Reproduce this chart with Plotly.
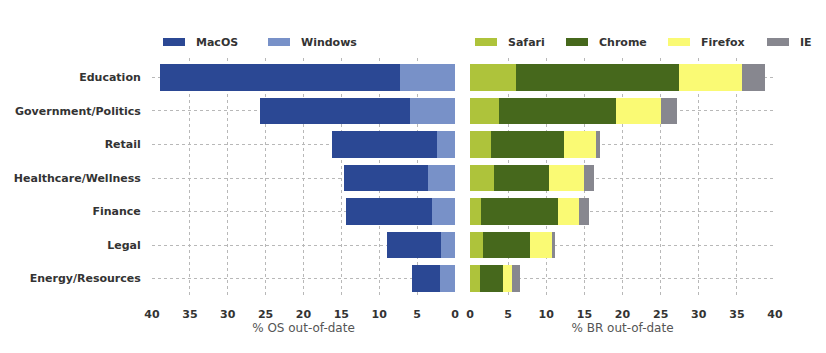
import plotly.graph_objects as go

categories = ["Education", "Government/Politics", "Retail", "Healthcare/Wellness",
              "Finance", "Legal", "Energy/Resources"]

# OS out-of-date (%)
os_macos = [31.6, 19.9, 13.9, 11.1, 11.4, 7.1, 3.7]
os_windows = [7.3, 5.9, 2.4, 3.6, 3.0, 1.9, 2.0]

# Browser out-of-date (%)
br_safari = [6.0, 3.8, 2.7, 3.2, 1.4, 1.7, 1.3]
br_chrome = [21.35, 15.3, 9.6, 7.1, 10.2, 6.2, 3.0]
br_firefox = [8.3, 6.0, 4.2, 4.7, 2.7, 2.9, 1.2]
br_ie = [3.1, 2.1, 0.6, 1.3, 1.3, 0.4, 1.0]

x_ticks = [0, 5, 10, 15, 20, 25, 30, 35, 40]

pos = list(range(len(categories)))

C_MAC = "#2b4894"
C_WIN = "#7891c8"
C_SAF = "#aec33b"
C_CHR = "#46681c"
C_FF = "#fafa74"
C_IE = "#87878f"

W, H = 826, 353

fig = go.Figure()

os_series = [(os_windows, "Windows", C_WIN), (os_macos, "MacOS", C_MAC)]
br_series = [(br_safari, "Safari", C_SAF), (br_chrome, "Chrome", C_CHR),
             (br_firefox, "Firefox", C_FF), (br_ie, "IE", C_IE)]

for vals, name, col in os_series:
    fig.add_trace(go.Bar(y=pos, x=vals, orientation="h", name=name,
                         marker=dict(color=col, line=dict(width=0)),
                         xaxis="x", yaxis="y", showlegend=False))
for vals, name, col in br_series:
    fig.add_trace(go.Bar(y=pos, x=vals, orientation="h", name=name,
                         marker=dict(color=col, line=dict(width=0)),
                         xaxis="x2", yaxis="y2", showlegend=False))

# hand-placed legend entries (swatch left pixel, label from the series name)
legend_entries = [("MacOS", C_MAC, 163), ("Windows", C_WIN, 268),
                  ("Safari", C_SAF, 475), ("Chrome", C_CHR, 566),
                  ("Firefox", C_FF, 668), ("IE", C_IE, 767)]
shapes = []
annotations = []
leg_y = 42  # pixel from top
for name, col, x0 in legend_entries:
    shapes.append(dict(type="rect", xref="paper", yref="paper",
                       x0=x0 / W, x1=(x0 + 22) / W,
                       y0=1 + (58 - leg_y - 4) / (H - 58 - 55),
                       y1=1 + (58 - leg_y + 4) / (H - 58 - 55),
                       fillcolor=col, line=dict(width=0), layer="above"))
    annotations.append(dict(text=name, xref="paper", yref="paper",
                            x=(x0 + 31) / W, xanchor="left",
                            y=1 + (58 - leg_y) / (H - 58 - 55), yanchor="middle",
                            showarrow=False,
                            font=dict(family="DejaVu Sans", size=11, color="#333333", weight="bold")))

font_tick = dict(family="DejaVu Sans", size=11, color="#333333", weight="bold")
grid = dict(showgrid=True, gridcolor="#b8b8b8", griddash="dot", gridwidth=1)
title_font = dict(family="DejaVu Sans", size=12, color="#555555")

yrange = [len(categories) - 1 + 0.58, -0.58]

fig.update_layout(
    width=W, height=H,
    margin=dict(l=0, r=0, t=58, b=55, autoexpand=False),
    paper_bgcolor="white", plot_bgcolor="white",
    barmode="stack", bargap=0.2,
    font=dict(family="DejaVu Sans", size=11, color="#333333"),
    showlegend=False,
    shapes=shapes, annotations=annotations,
    xaxis=dict(domain=[152 / W, 455 / W], range=[40, 0], tickvals=x_ticks,
               tickfont=font_tick, ticks="outside", ticklen=6, tickcolor="rgba(0,0,0,0)",
               title=dict(text="% OS out-of-date", font=title_font, standoff=2),
               zeroline=False, showline=False, automargin=False, **grid),
    xaxis2=dict(domain=[470 / W, 775 / W], range=[0, 40], tickvals=x_ticks,
                tickfont=font_tick, ticks="outside", ticklen=6, tickcolor="rgba(0,0,0,0)",
                title=dict(text="% BR out-of-date", font=title_font, standoff=2),
                zeroline=False, showline=False, anchor="y2", automargin=False, **grid),
    yaxis=dict(domain=[0, 1], range=yrange, tickvals=pos, ticktext=categories,
               tickfont=font_tick, ticks="outside", ticklen=8, tickcolor="rgba(0,0,0,0)",
               zeroline=False, showline=False, anchor="x", automargin=False, **grid),
    yaxis2=dict(domain=[0, 1], range=yrange, tickvals=pos, showticklabels=False,
                zeroline=False, showline=False, anchor="x2", automargin=False, **grid),
)

fig.write_html("out.html")
